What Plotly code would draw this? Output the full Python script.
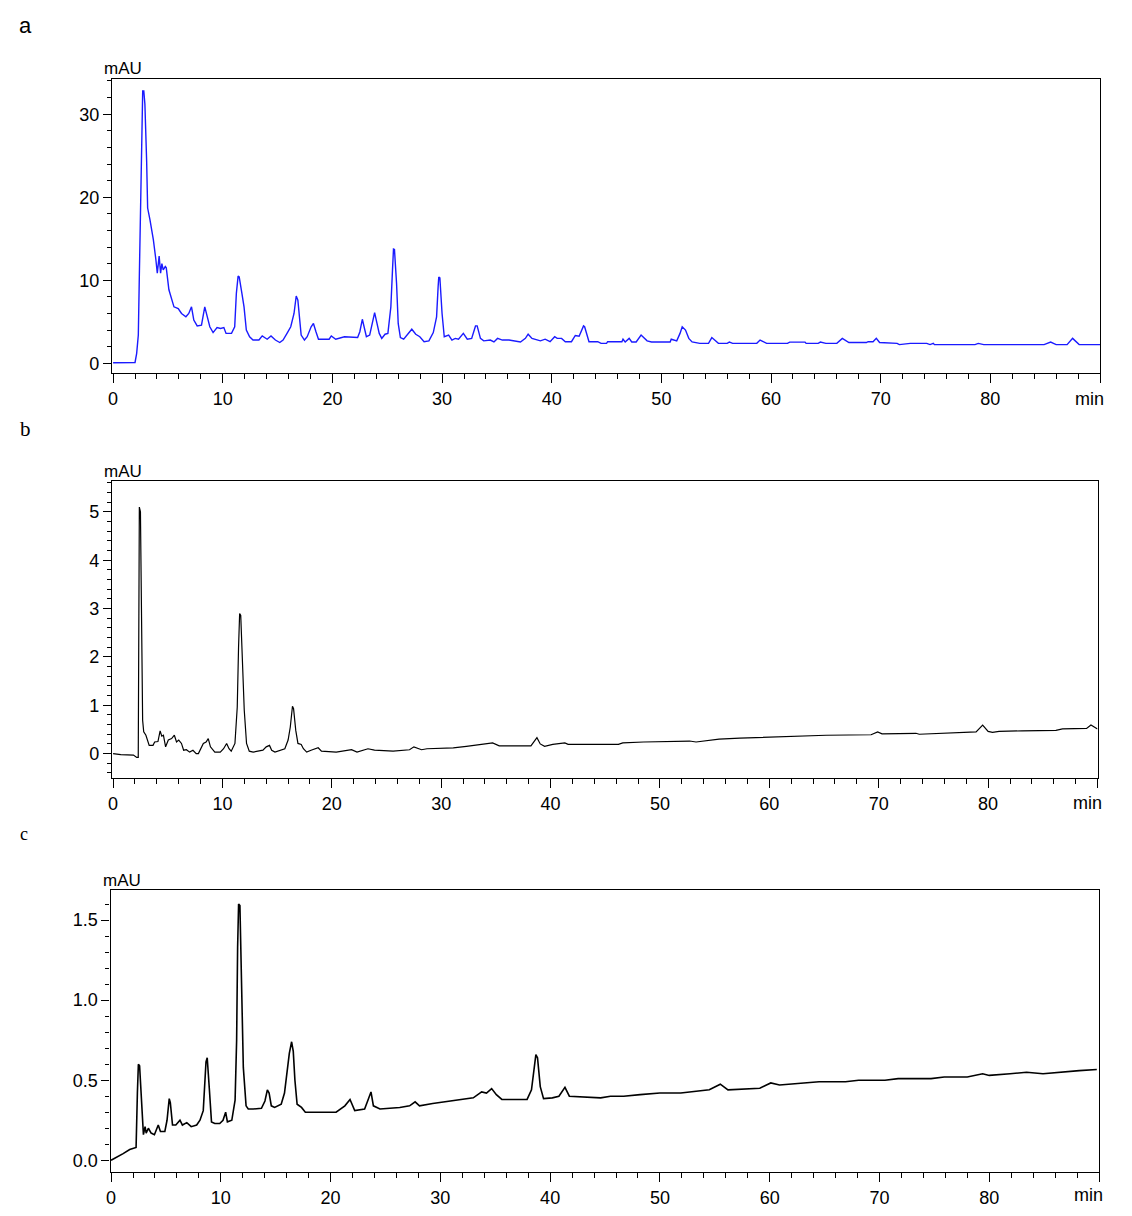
import plotly.graph_objects as go

# ---------------- data (retention time in min, absorbance in mAU) ----------------
a_time = [0.0, 0.8, 2.0, 2.15, 2.3, 2.39, 2.5, 2.57, 2.7, 2.8, 2.9, 3.06, 3.15, 3.36, 3.67, 3.9, 4.03, 4.2,
          4.33, 4.45, 4.57, 4.76, 4.85, 5.09, 5.33, 5.55, 5.94, 6.24, 6.64, 6.9, 7.15, 7.36, 7.67, 8.06, 8.36,
          8.56, 8.82, 9.12, 9.48, 9.8, 10.1, 10.3, 10.8, 11.09, 11.24, 11.4, 11.5, 11.75, 11.94, 12.15, 12.45,
          12.76, 13.3, 13.6, 14.05, 14.4, 14.8, 15.2, 15.5, 15.9, 16.2, 16.5, 16.7, 16.85, 17.0, 17.15, 17.45,
          17.7, 18.06, 18.27, 18.5, 18.73, 19.7, 19.9, 20.3, 21.1, 22.3, 22.5, 22.73, 22.9, 23.1, 23.4, 23.67,
          23.85, 24.0, 24.27, 24.5, 24.8, 25.06, 25.33, 25.48, 25.57, 25.66, 25.85, 26.0, 26.2, 26.5, 26.9,
          27.24, 27.6, 27.97, 28.36, 28.8, 29.2, 29.5, 29.64, 29.7, 29.8, 30.0, 30.2, 30.6, 30.9, 31.2, 31.5,
          31.94, 32.3, 32.7, 33.05, 33.2, 33.5, 33.8, 34.4, 34.73, 35.06, 35.5, 36.1, 37.15, 37.6, 37.85, 38.2,
          38.97, 39.4, 39.85, 40.27, 40.5, 40.9, 41.24, 41.8, 42.15, 42.5, 42.9, 43.0, 43.24, 43.4, 44.2, 44.5,
          45.0, 45.1, 46.4, 46.5, 46.7, 47.06, 47.3, 47.7, 48.15, 48.7, 49.1, 50.8, 50.9, 51.4, 51.7, 51.9,
          52.2, 52.5, 52.8, 53.4, 53.5, 54.3, 54.6, 55.2, 56.0, 56.2, 56.5, 58.7, 59.0, 59.6, 61.5, 61.7, 63.1,
          63.2, 64.3, 64.5, 65.0, 66.0, 66.5, 67.1, 68.7, 68.85, 69.3, 69.6, 69.9, 71.5, 71.7, 72.7, 74.2,
          74.5, 74.8, 74.9, 78.6, 78.9, 79.4, 84.9, 85.5, 86.0, 87.0, 87.5, 88.1, 90.0]
a_mau = [0.07, 0.1, 0.1, 1.2, 3.4, 10.25, 18.7, 26.3, 32.8, 32.8, 31.2, 24.3, 18.7, 17.3, 14.9, 12.5, 10.85, 12.9,
         10.85, 12.0, 11.25, 11.65, 11.5, 8.85, 7.6, 6.8, 6.6, 6.0, 5.6, 6.0, 6.8, 5.2, 4.5, 4.6, 6.8,
         5.6, 4.4, 3.7, 4.3, 4.2, 4.3, 3.6, 3.6, 4.4, 8.4, 10.5, 10.4, 8.4, 6.8, 4.0, 3.2,
         2.8, 2.8, 3.3, 2.9, 3.3, 2.8, 2.5, 2.8, 3.7, 4.4, 6.0, 8.1, 7.6, 5.2, 3.4, 2.8,
         3.2, 4.4, 4.8, 3.8, 2.9, 2.9, 3.3, 2.9, 3.2, 3.1, 3.8, 5.3, 4.4, 3.2, 3.4, 4.8,
         6.1, 5.2, 3.6, 3.0, 3.5, 3.6, 6.8, 11.25, 13.75, 13.7, 9.6, 4.8, 3.1, 2.9, 3.5,
         4.1, 3.5, 3.2, 2.6, 2.7, 3.7, 5.6, 9.2, 10.4, 10.3, 6.0, 3.2, 3.4, 2.8, 3.0, 2.9,
         3.6, 2.9, 3.0, 4.5, 4.5, 3.0, 2.7, 2.8, 2.57, 3.0, 2.8, 2.8, 2.57, 3.0, 3.5, 3.0,
         2.7, 2.9, 2.6, 3.2, 3.0, 3.0, 2.6, 2.6, 3.35, 3.25, 4.5, 4.4, 3.3, 2.6, 2.6, 2.4,
         2.4, 2.6, 2.6, 2.9, 2.57, 3.0, 2.57, 2.57, 3.4, 2.7, 2.57, 2.57, 2.9, 2.7, 3.6, 4.4,
         4.0, 3.0, 2.57, 2.5, 2.4, 2.4, 3.1, 2.4, 2.4, 2.55, 2.4, 2.4, 2.8, 2.4, 2.4, 2.55, 2.55,
         2.4, 2.4, 2.55, 2.4, 2.4, 3.0, 2.5, 2.5, 2.6, 2.6, 3.0, 2.5, 2.4, 2.25, 2.4, 2.4,
         2.25, 2.4, 2.25, 2.25, 2.4, 2.25, 2.25, 2.55, 2.25, 2.25, 3.0, 2.25, 2.25]

b_time = [0.0, 0.7, 1.86, 2.16, 2.3, 2.33, 2.4, 2.5, 2.6, 2.7, 2.8, 3.0, 3.3, 3.65, 3.8, 4.1, 4.3, 4.45, 4.6,
          4.8, 5.05, 5.35, 5.6, 5.8, 6.0, 6.25, 6.45, 6.7, 7.0, 7.3, 7.6, 7.8, 8.25, 8.5, 8.7, 8.9, 9.3, 9.8,
          10.1, 10.38, 10.6, 10.8, 11.14, 11.35, 11.47, 11.57, 11.67, 11.8, 11.99, 12.2, 12.45, 12.8, 13.7,
          14.0, 14.3, 14.5, 14.8, 15.7, 16.0, 16.2, 16.4, 16.5, 16.7, 16.9, 17.2, 17.4, 17.7, 18.1, 18.75,
          19.05, 20.4, 21.8, 22.3, 23.3, 23.9, 25.6, 27.1, 27.5, 28.2, 28.7, 31.1, 32.3, 33.8, 34.7, 35.3,
          38.2, 38.75, 39.05, 39.45, 40.2, 41.3, 41.6, 46.2, 46.6, 48.5, 49.7, 52.7, 53.3, 54.2, 55.4, 57.3,
          60.0, 62.7, 65.2, 69.3, 69.9, 70.3, 72.8, 73.4, 73.7, 75.8, 78.9, 79.5, 80.0, 80.4, 81.0, 83.1,
          86.2, 86.8, 89.0, 89.4, 90.0]
b_mau = [0.0, -0.02, -0.03, -0.08, -0.08, 3.24, 5.1, 5.0, 2.52, 0.69, 0.45, 0.38, 0.17, 0.17, 0.24, 0.25, 0.47,
         0.36, 0.38, 0.14, 0.28, 0.31, 0.38, 0.24, 0.28, 0.21, 0.07, 0.08, 0.03, 0.07, 0.0, 0.0, 0.21, 0.24,
         0.31, 0.14, 0.03, 0.03, 0.1, 0.21, 0.1, 0.05, 0.21, 0.96, 2.2, 2.9, 2.86, 1.93, 0.9, 0.21, 0.05,
         0.03, 0.07, 0.14, 0.17, 0.07, 0.03, 0.1, 0.28, 0.55, 0.98, 0.93, 0.48, 0.21, 0.19, 0.1, 0.03, 0.07,
         0.12, 0.05, 0.03, 0.08, 0.03, 0.1, 0.07, 0.05, 0.08, 0.14, 0.08, 0.1, 0.12, 0.15, 0.19, 0.22, 0.16,
         0.16, 0.33, 0.2, 0.15, 0.19, 0.22, 0.19, 0.19, 0.22, 0.24, 0.25, 0.26, 0.24, 0.27, 0.3, 0.32,
         0.34, 0.35, 0.38, 0.39, 0.45, 0.41, 0.41, 0.42, 0.4, 0.42, 0.45, 0.59, 0.46, 0.44, 0.46, 0.47,
         0.48, 0.51, 0.52, 0.59, 0.51]

c_time = [0.0, 0.5, 1.1, 1.7, 2.28, 2.4, 2.49, 2.6, 2.7, 2.85, 2.95, 3.1, 3.2, 3.4, 3.65, 3.95, 4.3, 4.5, 4.9,
          5.1, 5.3, 5.4, 5.6, 5.9, 6.28, 6.5, 6.9, 7.3, 7.8, 8.1, 8.4, 8.65, 8.76, 8.95, 9.15, 9.45, 9.9,
          10.2, 10.44, 10.6, 11.0, 11.3, 11.44, 11.53, 11.62, 11.74, 11.9, 12.05, 12.3, 12.5, 12.95, 13.7,
          14.02, 14.24, 14.4, 14.6, 14.9, 15.5, 15.8, 16.24, 16.45, 16.6, 16.75, 16.95, 17.35, 17.7, 19.0,
          20.5, 21.3, 21.77, 22.2, 23.1, 23.4, 23.68, 23.9, 24.5, 26.3, 27.2, 27.7, 28.1, 29.3, 30.9, 32.1,
          33.0, 33.76, 34.2, 34.67, 35.1, 35.6, 37.9, 38.3, 38.56, 38.7, 38.85, 39.1, 39.4, 40.2, 40.8,
          41.35, 41.75, 43.0, 44.6, 45.5, 46.7, 48.2, 50.0, 51.9, 52.7, 54.5, 55.5, 56.2, 59.1, 60.1, 60.9,
          62.7, 64.5, 66.9, 68.1, 70.5, 71.7, 73.5, 74.7, 75.9, 78.0, 79.4, 80.0, 81.9, 83.4, 84.9, 86.4,
          88.2, 89.8]
c_mau = [0.0, 0.017, 0.042, 0.067, 0.08, 0.42, 0.6, 0.59, 0.44, 0.28, 0.16, 0.21, 0.17, 0.2, 0.17, 0.16, 0.22,
         0.18, 0.18, 0.25, 0.385, 0.36, 0.22, 0.22, 0.25, 0.22, 0.235, 0.21, 0.22, 0.25, 0.31, 0.615, 0.64,
         0.45, 0.24, 0.23, 0.23, 0.25, 0.3, 0.24, 0.25, 0.375, 0.75, 1.33, 1.6, 1.59, 1.08, 0.58, 0.34,
         0.32, 0.32, 0.325, 0.37, 0.44, 0.42, 0.34, 0.33, 0.35, 0.42, 0.667, 0.74, 0.68, 0.5, 0.35, 0.33,
         0.3, 0.3, 0.3, 0.34, 0.38, 0.31, 0.32, 0.375, 0.427, 0.34, 0.32, 0.33, 0.34, 0.365, 0.34, 0.355,
         0.37, 0.38, 0.39, 0.427, 0.42, 0.448, 0.41, 0.38, 0.38, 0.44, 0.58, 0.66, 0.64, 0.46, 0.385, 0.39,
         0.4, 0.455, 0.4, 0.397, 0.39, 0.4, 0.4, 0.41, 0.42, 0.42, 0.427, 0.44, 0.475, 0.44, 0.45, 0.483,
         0.47, 0.48, 0.49, 0.49, 0.5, 0.5, 0.51, 0.51, 0.51, 0.52, 0.52, 0.54, 0.53, 0.54, 0.55, 0.54,
         0.55, 0.56, 0.567]

x_tick_vals = [0, 10, 20, 30, 40, 50, 60, 70, 80, 90]
x_tick_text = ["0", "10", "20", "30", "40", "50", "60", "70", "80", ""]
x_unit = "min"
a_y_ticks = [0, 10, 20, 30]
b_y_ticks = [0, 1, 2, 3, 4, 5]
c_y_ticks = [0.0, 0.5, 1.0, 1.5]
c_y_text = ["0.0", "0.5", "1.0", "1.5"]
panel_labels = ["a", "b", "c"]

# ---------------- layout helpers ----------------
W, H = 1132, 1216
TICKFONT = dict(family="Liberation Sans, Arial, sans-serif", size=18, color="black")


def xd(p0, p1):
    return [p0 / W, p1 / W]


def yd(top, bottom):
    return [1 - bottom / H, 1 - top / H]


def axis_common():
    return dict(showline=True, mirror=True, linecolor="black", linewidth=1.3, ticks="outside",
                tickcolor="black", tickwidth=1, showgrid=False, zeroline=False, tickfont=TICKFONT,
                automargin=False)


def xaxis(domain, anchor, rng):
    d = axis_common()
    d.update(domain=domain, anchor=anchor, range=rng, tickmode="array", tickvals=x_tick_vals,
             ticktext=x_tick_text, ticklen=9,
             minor=dict(tickmode="linear", tick0=0, dtick=2, ticks="outside", ticklen=5, tickcolor="black"))
    return d


def yaxis(domain, anchor, rng, vals, text, minor_dt):
    d = axis_common()
    d.update(domain=domain, anchor=anchor, range=rng, tickmode="array", tickvals=vals, ticktext=text,
             ticklen=8,
             minor=dict(tickmode="linear", tick0=0, dtick=minor_dt, ticks="outside", ticklen=4,
                        tickcolor="black"))
    return d


fig = go.Figure()
fig.add_trace(go.Scatter(x=a_time, y=a_mau, mode="lines", line=dict(color="#1a1aff", width=1.4),
                         xaxis="x", yaxis="y", showlegend=False, hoverinfo="skip"))
fig.add_trace(go.Scatter(x=b_time, y=b_mau, mode="lines", line=dict(color="black", width=1.2),
                         xaxis="x2", yaxis="y2", showlegend=False, hoverinfo="skip"))
fig.add_trace(go.Scatter(x=c_time, y=c_mau, mode="lines", line=dict(color="black", width=1.6),
                         xaxis="x3", yaxis="y3", showlegend=False, hoverinfo="skip"))

fig.update_layout(
    width=W, height=H, margin=dict(l=0, r=0, t=0, b=0, autoexpand=False),
    paper_bgcolor="white", plot_bgcolor="white",
    xaxis=xaxis(xd(112, 1100), "y", [-0.1, 90.0]),
    yaxis=yaxis(yd(78.5, 373), "x", [-1.17, 34.3], a_y_ticks, [str(v) for v in a_y_ticks], 2),
    xaxis2=xaxis(xd(112, 1097.5), "y2", [-0.1, 90.0]),
    yaxis2=yaxis(yd(481, 778), "x2", [-0.505, 5.64], b_y_ticks, [str(v) for v in b_y_ticks], 0.2),
    xaxis3=xaxis(xd(110.5, 1099), "y3", [-0.05, 90.0]),
    yaxis3=yaxis(yd(890, 1172), "x3", [-0.073, 1.6875], c_y_ticks, c_y_text, 0.1),
)

annotations = []
# "mAU" unit labels above each y axis
for (xp, yp) in [(123, 68), (123, 472), (122, 880)]:
    annotations.append(dict(text="mAU", x=xp / W, y=1 - yp / H, xref="paper", yref="paper", showarrow=False,
                            xanchor="center", yanchor="middle",
                            font=dict(family=TICKFONT["family"], size=17, color="black")))
# "min" unit label at the right end of each x axis
for (xp, yp) in [(1089, 399), (1087, 803), (1088, 1195)]:
    annotations.append(dict(text=x_unit, x=xp / W, y=1 - yp / H, xref="paper", yref="paper", showarrow=False,
                            xanchor="center", yanchor="middle", font=TICKFONT))
# panel labels
for lab, (xp, yp), fam, sz in zip(panel_labels, [(25, 25), (25, 429), (24, 834)],
                                  ["Liberation Sans, Arial, sans-serif", "Liberation Serif, serif",
                                   "Liberation Serif, serif"], [22, 21, 18]):
    annotations.append(dict(text=lab, x=xp / W, y=1 - yp / H, xref="paper", yref="paper", showarrow=False,
                            xanchor="center", yanchor="middle", font=dict(family=fam, size=sz, color="black")))
fig.update_layout(annotations=annotations)

fig.write_html("out.html")
